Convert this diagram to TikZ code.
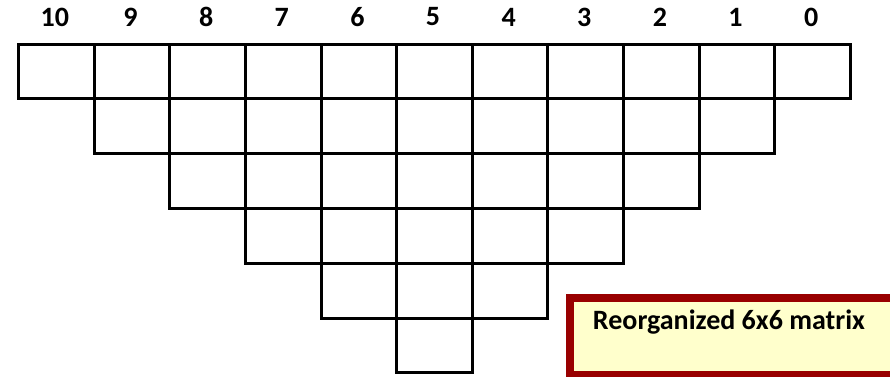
\documentclass[tikz,border=0pt]{standalone}
\usepackage{fontspec}
\setmainfont{Carlito}
\usetikzlibrary{shadows}
\definecolor{boxred}{RGB}{153,0,0}
\definecolor{boxfill}{RGB}{255,255,204}
\tikzset{
  cell/.style={draw=black, line width=3pt, minimum width=75.64pt, minimum height=54.8pt, inner sep=0pt, anchor=north west},
  colnum/.style={font=\bfseries\fontsize{28}{30}\selectfont, inner sep=0pt},
  notebox/.style={draw=boxred, line width=8pt, fill=boxfill, inner sep=0pt, anchor=north west,
    drop shadow={shadow xshift=-3pt, shadow yshift=-2pt, opacity=0.35, fill=black!60}},
  notetext/.style={font=\bfseries\fontsize{28}{30}\selectfont, inner sep=0pt}
}
\begin{document}
\begin{tikzpicture}[x=1pt,y=-1pt]
\useasboundingbox (0,0) rectangle (890,376);
\foreach \c in {0,...,10}{
  \pgfmathtruncatemacro{\lab}{10-\c}
  \node[colnum] (h\c) at ({17+(\c+0.5)*75.64},17) {\lab};
}
\foreach \r in {0,...,5}{
  \pgfmathtruncatemacro{\last}{10-\r}
  \foreach \c in {\r,...,\last}{
    \node[cell] (c\r-\c) at ({17+\c*75.64},{42.5+\r*54.8}) {};
  }
}
\node[notebox, minimum width=340pt, minimum height=77pt] (box) at (566,294) {};
\node[notetext] (boxlabel) at (729,322) {Reorganized 6x6 matrix};
\end{tikzpicture}
\end{document}
